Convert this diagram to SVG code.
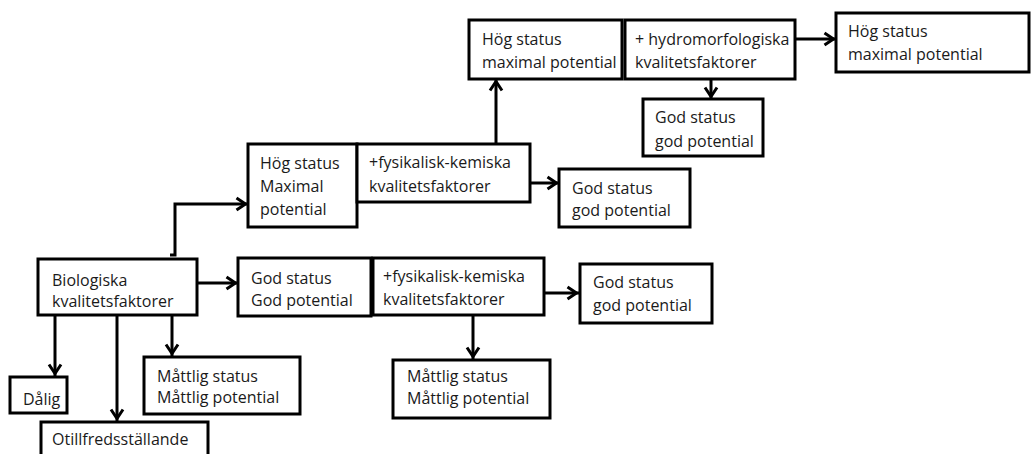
<svg xmlns="http://www.w3.org/2000/svg" width="1033" height="454" viewBox="0 0 1033 454">
<style>
rect{fill:#fff;stroke:#000;stroke-width:3}
text{font-family:"Open Sans","Liberation Sans",sans-serif;font-size:16px;fill:#1a1a1a}
.c path{fill:none;stroke:#000;stroke-width:3}
</style>
<defs>
<marker id="a" markerUnits="userSpaceOnUse" orient="auto" overflow="visible" refX="0" refY="0" markerWidth="14" markerHeight="14">
<path d="M-11.5,-6 L-2.5,0 L-11.5,6" fill="none" stroke="#000" stroke-width="3"/>
</marker>
</defs>
<rect width="1033" height="454" style="fill:#fff;stroke:none"/>
<g class="c">
<path d="M197,283 H238" marker-end="url(#a)"/>
<path d="M55,316 V376" marker-end="url(#a)"/>
<path d="M117,316 V421" marker-end="url(#a)"/>
<path d="M172,316 V356" marker-end="url(#a)"/>
<path d="M170,255 H175 V204 H248" marker-end="url(#a)"/>
<path d="M544,293 H579" marker-end="url(#a)"/>
<path d="M473,315 V359" marker-end="url(#a)"/>
<path d="M530,183 H559" marker-end="url(#a)"/>
<path d="M496,144 V79" marker-end="url(#a)"/>
<path d="M795,39 H836" marker-end="url(#a)"/>
<path d="M711,79 V99" marker-end="url(#a)"/>
</g>
<g id="bio"><rect x="38" y="259" width="159" height="56"/><text x="52" y="286">Biologiska</text><text x="52" y="307">kvalitetsfaktorer</text></g>
<g id="god1"><rect x="238" y="258" width="133" height="58"/><text x="251" y="284">God status</text><text x="251" y="306">God potential</text></g>
<g id="fys1"><rect x="373" y="258" width="171" height="57"/><text x="383" y="282">+fysikalisk-kemiska</text><text x="383" y="305">kvalitetsfaktorer</text></g>
<g id="god2"><rect x="580" y="264" width="132" height="59"/><text x="593" y="288">God status</text><text x="593" y="311">god potential</text></g>
<g id="mattlig2"><rect x="393" y="360" width="157" height="58"/><text x="407" y="382">Måttlig status</text><text x="407" y="404">Måttlig potential</text></g>
<g id="dalig"><rect x="10" y="377" width="57" height="36"/><text x="23" y="405">Dålig</text></g>
<g id="otill"><rect x="41" y="422" width="167" height="40"/><text x="52" y="445">Otillfredsställande</text></g>
<g id="mattlig1"><rect x="144" y="357" width="156" height="57"/><text x="157" y="382">Måttlig status</text><text x="157" y="403">Måttlig potential</text></g>
<g id="hog1"><rect x="248" y="144" width="109" height="83"/><text x="260" y="169">Hög status</text><text x="260" y="192">Maximal</text><text x="260" y="215">potential</text></g>
<g id="fys2"><rect x="357" y="144" width="173" height="58"/><text x="369" y="168">+fysikalisk-kemiska</text><text x="369" y="192">kvalitetsfaktorer</text></g>
<g id="god3"><rect x="559" y="169" width="131" height="58"/><text x="572" y="194">God status</text><text x="572" y="216">god potential</text></g>
<g id="hog2"><rect x="469" y="20" width="153" height="59"/><text x="482" y="45">Hög status</text><text x="482" y="68">maximal potential</text></g>
<g id="hydro"><rect x="625" y="20" width="170" height="59"/><text x="635" y="45">+ hydromorfologiska</text><text x="635" y="68">kvalitetsfaktorer</text></g>
<g id="hog3"><rect x="836" y="13" width="193" height="59"/><text x="848" y="37">Hög status</text><text x="848" y="60">maximal potential</text></g>
<g id="god4"><rect x="643" y="99" width="120" height="57"/><text x="655" y="123">God status</text><text x="655" y="147">god potential</text></g>
</svg>
